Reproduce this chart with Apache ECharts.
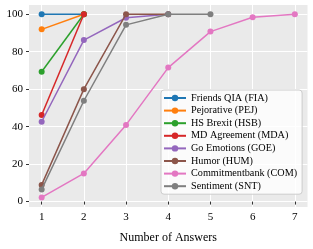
<!DOCTYPE html>
<html><head><meta charset="utf-8">
<script src="https://cdn.jsdelivr.net/npm/echarts@6/dist/echarts.min.js"></script>
<style>html,body{margin:0;padding:0;background:#fff}#c{width:313px;height:249px}</style>
</head><body><div id="c"></div>
<script>
const xTicks = [1,2,3,4,5,6,7];
const yTicks = [0,20,40,60,80,100];
const names = ['Friends QIA (FIA)','Pejorative (PEJ)','HS Brexit (HSB)','MD Agreement (MDA)','Go Emotions (GOE)','Humor (HUM)','Commitmentbank (COM)','Sentiment (SNT)'];
const colors = ['#1f77b4','#ff7f0e','#2ca02c','#d62728','#9467bd','#8c564b','#e377c2','#7f7f7f'];
const FIA = [100,100];
const PEJ = [91.9,100];
const HSB = [69.3,100];
const MDA = [46.2,100];
const GOE = [42.6,86.2,98.1,100];
const HUM = [8.9,60,100,100];
const COM = [2.2,15,40.9,71.5,90.7,98.4,100];
const SNT = [6.5,53.8,94.3,100,100];
const allData = [FIA,PEJ,HSB,MDA,GOE,HUM,COM,SNT];
const font = 'Liberation Serif';
const series = allData.map((d,i)=>({
  name: names[i], type:'line', data: d.map((v,j)=>[xTicks[j], v]),
  symbol:'circle', symbolSize:6, showSymbol:true,
  lineStyle:{width:1.5,color:colors[i]}, itemStyle:{color:colors[i]},
  emphasis:{disabled:true}, z: 2+i
}));
const chart = echarts.init(document.getElementById('c'), null, {renderer:'canvas'});
chart.setOption({
  animation:false,
  backgroundColor:'#fff',
  grid:{left:29, top:5, right:5.5, bottom:35.6, show:true, backgroundColor:'#eaeaea', borderWidth:0},
  xAxis:{type:'value', min:0.7, max:7.3,
    name:'Number of Answers', nameLocation:'middle', nameGap:25,
    nameTextStyle:{fontFamily:font, fontSize:12, color:'#000'},
    axisLine:{show:false},
    axisTick:{show:true, length:3, lineStyle:{color:'#333'}, customValues:xTicks},
    axisLabel:{fontFamily:font, fontSize:11, color:'#000', margin:5, customValues:xTicks},
    splitLine:{show:true, lineStyle:{color:'#fff', width:1}}
  },
  yAxis:{type:'value', min:-2.9, max:104.9,
    axisLine:{show:false},
    axisTick:{show:true, length:3, lineStyle:{color:'#333'}, customValues:yTicks},
    axisLabel:{fontFamily:font, fontSize:11, color:'#000', margin:6, customValues:yTicks},
    splitLine:{show:true, lineStyle:{color:'#fff', width:1}}
  },
  legend:{orient:'vertical', left:161, top:90, itemWidth:22, itemHeight:8, itemGap:2.6, itemTextGap:7,
    padding:[3,5,3,2], backgroundColor:'rgba(255,255,255,0.8)', borderColor:'#ccc', borderWidth:1, borderRadius:3,
    textStyle:{fontFamily:font, fontSize:10.2, color:'#000'},
    data: names},
  series: series
});
</script></body></html>
